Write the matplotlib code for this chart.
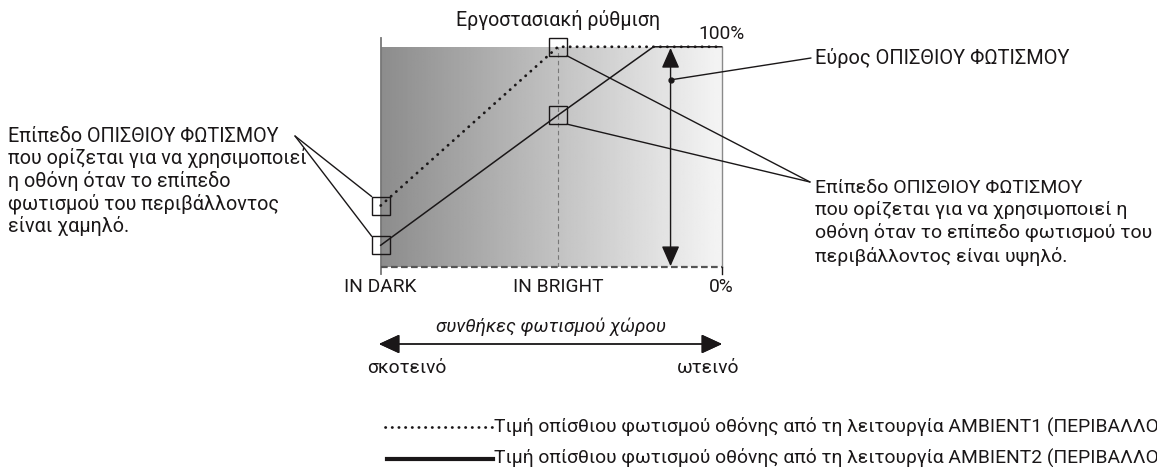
import numpy as np
import matplotlib.pyplot as plt
from matplotlib.patches import ConnectionPatch
from matplotlib.lines import Line2D

plt.rcParams['font.family'] = ['Roboto', 'DejaVu Sans']

# ambient light level: 0 = IN DARK, 52 = IN BRIGHT, 100 = right edge of the chart
ambient1_x = [0, 52, 100]
ambient1_y = [28, 100, 100]
ambient2_x = [0, 52, 80, 100]
ambient2_y = [10, 69, 100, 100]

x_ticks = [0, 52]
x_labels = ['IN DARK', 'IN BRIGHT']
y_labels = ['0%', '100%']

factory_x = 52
range_x = 85

W, H = 1157, 467
fig = plt.figure(figsize=(W / 100, H / 100), dpi=100)


def px(x, y):
    # pixel position -> figure fraction
    return x / W, 1 - y / H


INK = '#1a1718'

ax = fig.add_axes([380.7 / W, 1 - 267.3 / H, 341 / W, 220.5 / H])
ax.set_xlim(0, 100)
ax.set_ylim(0, 100)
ax.axis('off')

# grey background gradient (dark -> bright)
grad = np.linspace(0.55, 0.96, 256).reshape(1, -1)
ax.imshow(grad, cmap='gray', vmin=0, vmax=1, extent=[0, 100, 0, 100],
          aspect='auto', zorder=0)

# frame
ax.plot([0, 0], [-3, 104], color='#777777', lw=1.3, clip_on=False, zorder=2)
ax.plot([100, 100], [0, 100], color='#8a8a8a', lw=1.0, clip_on=False, zorder=2)
ax.plot([100, 100], [-3, 0], color=INK, lw=1.0, clip_on=False, zorder=2)
ax.plot([0, 100], [0, 0], color='#555555', lw=1.6, ls=(0, (3, 1.5)),
        clip_on=False, zorder=2)
ax.plot([factory_x, factory_x], [0, 100], color='#777777', lw=0.8,
        ls=(0, (4, 3)), zorder=2)

# data lines
ax.plot(ambient1_x, ambient1_y, color=INK, lw=2.0, ls=(0, (0.1, 2.4)),
        dash_capstyle='round', clip_on=False, zorder=4)
ax.plot(ambient2_x, ambient2_y, color=INK, lw=1.1, clip_on=False, zorder=4)

# small squares marking the set points
box_pts = [(ambient1_x[0], ambient1_y[0]), (ambient2_x[0], ambient2_y[0]),
           (ambient1_x[1], ambient1_y[1]), (ambient2_x[1], ambient2_y[1])]
bx = [p[0] for p in box_pts]
by = [p[1] for p in box_pts]
ax.plot(bx, by, ls='none', marker='s', ms=13, mfc='none', mec=INK, mew=1.0,
        clip_on=False, zorder=5)

# half size of a square in data units
hx = 9 / 341 * 100
hy = 9 / 220.5 * 100

# backlight range double arrow
ax.annotate('', xy=(range_x, 0.5), xytext=(range_x, 99.5),
            arrowprops=dict(arrowstyle='<|-|>, head_length=1.25, head_width=0.55',
                            mutation_scale=10, color=INK, lw=1.0,
                            shrinkA=0, shrinkB=0), zorder=5)
ax.plot([range_x], [85], 'o', color=INK, ms=3.5, zorder=6)

# axis labels
for xv, lab in zip(x_ticks, x_labels):
    ax.text(xv, -9, lab, ha='center', va='center', fontsize=13.8, color=INK)
ax.text(100, -9, y_labels[0], ha='center', va='center', fontsize=13.8, color=INK)
ax.text(100, 106, y_labels[1], ha='center', va='center', fontsize=13.8, color=INK)
ax.text(factory_x, 112, 'Εργοστασιακή ρύθμιση', ha='center', va='center',
        fontsize=14.1, color=INK)

# connectors
def connect(xy_data, xy_px):
    con = ConnectionPatch(xyA=xy_data, coordsA=ax.transData,
                          xyB=px(*xy_px), coordsB=fig.transFigure,
                          color=INK, lw=1.0, zorder=6)
    fig.add_artist(con)


left_pt = (295, 136)
connect((box_pts[0][0] - hx, box_pts[0][1] + hy), left_pt)
connect((box_pts[1][0] - hx, box_pts[1][1] + hy), left_pt)
right_pt = (810, 182)
connect((box_pts[2][0] + hx, box_pts[2][1] - hy), right_pt)
connect((box_pts[3][0] + hx, box_pts[3][1] - hy), right_pt)
connect((range_x, 85), (811, 58))

left_text = ('Επίπεδο ΟΠΙΣΘΙΟΥ ΦΩΤΙΣΜΟΥ\n'
             'που ορίζεται για να χρησιμοποιεί\n'
             'η οθόνη όταν το επίπεδο\n'
             'φωτισμού του περιβάλλοντος\n'
             'είναι χαμηλό.')
fig.text(*px(8, 181.5), left_text, ha='left', va='center', fontsize=14.2,
         linespacing=1.15, color=INK)

right_text = ('Επίπεδο ΟΠΙΣΘΙΟΥ ΦΩΤΙΣΜΟΥ\n'
              'που ορίζεται για να χρησιμοποιεί η\n'
              'οθόνη όταν το επίπεδο φωτισμού του\n'
              'περιβάλλοντος είναι υψηλό.')
fig.text(*px(815, 222.5), right_text, ha='left', va='center', fontsize=14.0,
         linespacing=1.28, color=INK)
fig.text(*px(815, 58), 'Εύρος ΟΠΙΣΘΙΟΥ ΦΩΤΙΣΜΟΥ', ha='left', va='center',
         fontsize=14.4, color=INK)

# ambient condition arrow below the chart
fig.text(*px(551, 327), 'συνθήκες φωτισμού χώρου', ha='center', va='center',
         fontsize=13.6, style='italic', color=INK)
fig.add_artist(plt.annotate('', xy=px(379, 344), xytext=px(722, 344),
                            xycoords='figure fraction', textcoords='figure fraction',
                            arrowprops=dict(arrowstyle='<|-|>, head_length=1.3, head_width=0.6',
                                            mutation_scale=10, color=INK, lw=1.0,
                                            shrinkA=0, shrinkB=0)))
fig.text(*px(407, 368), 'σκοτεινό', ha='center', va='center', fontsize=13.8, color=INK)
fig.text(*px(708, 368), 'ωτεινό', ha='center', va='center', fontsize=13.8, color=INK)

# legend (the reference is cropped at the right edge)
fig.add_artist(Line2D([385 / W, 492 / W], [1 - 426.7 / H] * 2, color=INK, lw=2.0,
                      ls=(0, (0.1, 2.3)), dash_capstyle='round'))
fig.add_artist(Line2D([387 / W, 493 / W], [1 - 459 / H] * 2, color=INK, lw=3.0))
fig.text(*px(494, 426), 'Τιμή οπίσθιου φωτισμού οθόνης από τη λειτουργία AMBIENT1 (ΠΕΡΙΒΑΛΛΟ',
         ha='left', va='center', fontsize=13.9, color=INK)
fig.text(*px(494, 457), 'Τιμή οπίσθιου φωτισμού οθόνης από τη λειτουργία AMBIENT2 (ΠΕΡΙΒΑΛΛΟ',
         ha='left', va='center', fontsize=13.9, color=INK)

fig.savefig('out.png', dpi=100)
